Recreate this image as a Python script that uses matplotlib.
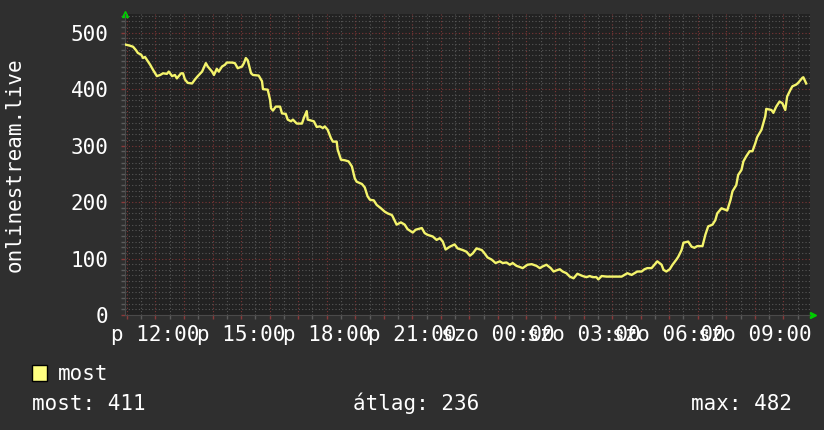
import matplotlib.pyplot as plt
from matplotlib.ticker import MultipleLocator, FuncFormatter
from matplotlib.patches import Rectangle

# minutes after the graph start (p 10:56) and the "most" values
minutes = [0, 10, 17, 23, 27, 34, 38, 42, 46, 53, 59, 67, 74, 80, 88, 92, 99, 105, 109, 118,
           122, 126, 132, 141, 147, 153, 162, 170, 174, 183, 187, 193, 197, 204, 210, 214, 225, 231, 237, 246,
           250, 254, 258, 265, 269, 281, 288, 290, 300, 305, 307, 311, 317, 326, 330, 338, 342, 349, 353, 361,
           372, 376, 382, 384, 393, 397, 403, 410, 416, 420, 426, 433, 437, 445, 447, 454, 462, 470, 477, 483,
           487, 498, 504, 510, 515, 523, 529, 538, 546, 552, 561, 563, 571, 580, 588, 594, 605, 611, 624, 630,
           636, 647, 655, 662, 668, 674, 683, 693, 699, 710, 718, 725, 731, 739, 750, 756, 762, 771, 779, 788,
           794, 802, 809, 815, 823, 830, 836, 846, 855, 865, 872, 878, 886, 895, 901, 907, 914, 920, 928, 935,
           943, 951, 962, 970, 977, 983, 991, 995, 1002, 1012, 1029, 1044, 1050, 1056, 1065, 1071, 1077, 1086, 1092, 1098,
           1107, 1113, 1119, 1128, 1132, 1138, 1145, 1151, 1159, 1163, 1170, 1174, 1184, 1191, 1197, 1203, 1214, 1220, 1226, 1235,
           1241, 1245, 1254, 1260, 1266, 1273, 1277, 1285, 1289, 1296, 1300, 1306, 1313, 1319, 1325, 1329, 1338, 1342, 1346, 1348,
           1359, 1363, 1369, 1376, 1382, 1388, 1392, 1399, 1403, 1411, 1415, 1424, 1426, 1432]
most = [479, 477, 475, 469, 464, 461, 455, 457, 452, 443, 434, 423, 425, 428, 427, 431, 423, 425, 419, 428,
        428, 417, 411, 410, 417, 423, 431, 446, 440, 431, 425, 436, 431, 440, 443, 447, 447, 446, 437, 440,
        446, 455, 451, 428, 425, 424, 414, 400, 399, 381, 366, 362, 369, 369, 357, 356, 346, 343, 346, 339,
        339, 349, 361, 346, 344, 343, 333, 334, 331, 334, 328, 313, 307, 307, 293, 275, 274, 272, 263, 242,
        236, 232, 226, 210, 204, 203, 195, 189, 183, 180, 177, 174, 160, 164, 160, 152, 146, 151, 154, 145,
        142, 139, 133, 136, 130, 116, 121, 125, 118, 115, 112, 105, 109, 118, 115, 109, 102, 98, 92, 95,
        92, 93, 89, 92, 87, 85, 83, 89, 90, 87, 83, 86, 89, 83, 77, 79, 81, 77, 74, 68,
        65, 73, 69, 67, 69, 67, 67, 63, 69, 68, 68, 68, 71, 74, 71, 74, 77, 77, 81, 83,
        83, 89, 95, 89, 80, 77, 81, 89, 98, 103, 115, 128, 130, 121, 119, 122, 122, 142, 157, 160,
        168, 180, 189, 187, 185, 204, 219, 230, 248, 257, 272, 281, 290, 290, 304, 315, 328, 340, 352, 365,
        363, 358, 369, 378, 375, 363, 387, 399, 405, 408, 411, 420, 421, 410]

start_hour = 10 + 56 / 60
ylabel = 'onlinestream.live'
legend_name = 'most'
stats = ['most: 411', 'átlag: 236', 'max: 482']

bg = '#2f2f2f'
plot_bg = '#222222'
line_color = '#f4f46c'
plt.rcParams['font.family'] = ['DejaVu Sans Mono']
plt.rcParams['font.size'] = 15

fig = plt.figure(figsize=(8.24, 4.30), dpi=100, facecolor=bg)
ax = fig.add_axes([125 / 824, 1 - 315 / 430, 685 / 824, 301 / 430])
ax.set_facecolor(plot_bg)

hours = [start_hour + m / 60 for m in minutes]
ax.plot(hours, most, color=line_color, lw=1.7, zorder=3)

ax.set_xlim(start_hour, start_hour + 24)
ax.set_ylim(0, 533)


def hour_label(h, pos):
    h = int(round(h))
    if h % 3:
        return ''
    day = 'p' if h < 24 else 'szo'
    return f'{day} {h % 24:02d}:00'


ax.xaxis.set_major_locator(MultipleLocator(1))
ax.xaxis.set_minor_locator(MultipleLocator(0.5))
ax.xaxis.set_major_formatter(FuncFormatter(hour_label))
ax.yaxis.set_major_locator(MultipleLocator(100))
ax.yaxis.set_minor_locator(MultipleLocator(10))

ax.grid(which='major', color='#7e3636', linestyle=(0, (1, 2)), lw=0.8)
ax.grid(which='minor', color='#575757', linestyle=(0, (1, 2)), lw=0.8)
ax.set_axisbelow(True)

ax.tick_params(which='major', colors='#8a3a3a', length=3, width=1, labelcolor='white')
ax.tick_params(which='minor', colors='#5c5c5c', length=3, width=1)
ax.tick_params(axis='x', which='major', pad=4)
ax.tick_params(axis='y', which='major', pad=9)

for side in ['top', 'right']:
    ax.spines[side].set_visible(False)
for side in ['left', 'bottom']:
    ax.spines[side].set_color('#4a4a4a')

ax.set_ylabel(ylabel, color='white', labelpad=33)

# green arrows at the axis ends
ax.plot([0], [1.0], marker='^', color='#00cc00', ms=5, transform=ax.transAxes, clip_on=False)
ax.plot([1.004], [0], marker='>', color='#00cc00', ms=5, transform=ax.transAxes, clip_on=False)

# legend and stats
fig.patches.append(Rectangle((32 / 824, 1 - 381 / 430), 15 / 824, 16 / 430, transform=fig.transFigure,
                             facecolor='#ffff80', edgecolor='black', lw=1))
fig.text(58 / 824, 1 - 380 / 430, legend_name, color='white', va='baseline')
fig.text(32 / 824, 1 - 410 / 430, stats[0], color='white', va='baseline')
fig.text(353 / 824, 1 - 410 / 430, stats[1], color='white', va='baseline')
fig.text(792 / 824, 1 - 410 / 430, stats[2], color='white', va='baseline', ha='right')

fig.savefig('out.png', dpi=100, facecolor=bg)
